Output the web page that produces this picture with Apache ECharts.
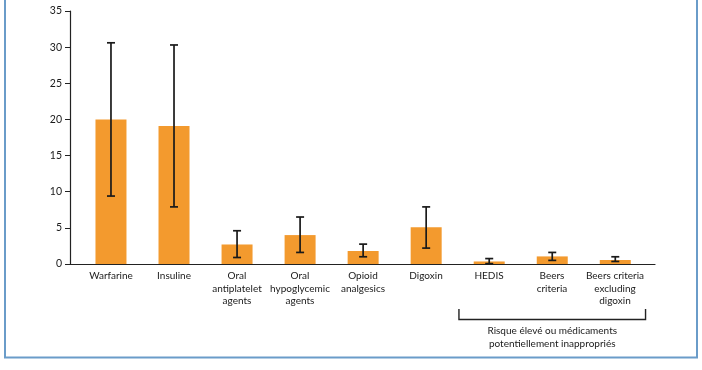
<!DOCTYPE html>
<html>
<head>
<meta charset="utf-8">
<script src="https://cdn.jsdelivr.net/npm/echarts@6/dist/echarts.min.js"></script>
<style>
html,body{margin:0;padding:0;background:#fff;}
#c{width:702px;height:370px;}
</style>
</head>
<body>
<div id="c"></div>
<script>
const categories = ['Warfarine','Insuline','Oral\nantiplatelet\nagents','Oral\nhypoglycemic\nagents','Opioid\nanalgesics','Digoxin','HEDIS','Beers\ncriteria','Beers criteria\nexcluding\ndigoxin'];
const values = [20, 19.1, 2.7, 4.0, 1.8, 5.1, 0.35, 1.05, 0.55];
const errLow = [9.4, 7.9, 0.9, 1.6, 1.0, 2.2, 0.05, 0.5, 0.35];
const errHigh = [30.6, 30.3, 4.6, 6.5, 2.75, 7.9, 0.75, 1.6, 1.0];
const yTicks = [0, 5, 10, 15, 20, 25, 30, 35];
const groupLabel = 'Risque élevé ou médicaments\npotentiellement inappropriés';
const groupRange = [6, 8];

const FONT = 'Lato';
const chart = echarts.init(document.getElementById('c'));
const barData = values.map((v, i) => [i, v]);
const errData = values.map((v, i) => [i, errLow[i], errHigh[i]]);

chart.setOption({
  animation: false,
  grid: [
    {left: 70, right: 47, top: 11, bottom: 106},
    {left: 79.5, right: 55.5, top: 11, bottom: 106}
  ],
  xAxis: [
    {type: 'value', gridIndex: 0, min: -0.65, max: 8.63,
     axisLine: {show: true, onZero: false, lineStyle: {color: '#222', width: 1.2}},
     axisTick: {show: false}, axisLabel: {show: false}, splitLine: {show: false}},
    {type: 'category', gridIndex: 1, data: categories,
     axisLine: {show: false}, axisTick: {show: false}, splitLine: {show: false},
     axisLabel: {interval: 0, color: '#1a1a1a', fontFamily: FONT, fontSize: 10, lineHeight: 12.5, margin: 6}}
  ],
  yAxis: [
    {type: 'value', gridIndex: 0, min: 0, max: 35, interval: 5,
     axisLine: {show: true, onZero: false, lineStyle: {color: '#222', width: 1.2}},
     axisTick: {show: true, length: 5, lineStyle: {color: '#222'}},
     splitLine: {show: false},
     axisLabel: {color: '#1a1a1a', fontFamily: FONT, fontSize: 10.5, margin: 8,
       formatter: v => yTicks.includes(v) ? String(v) : ''}},
    {type: 'value', gridIndex: 1, min: 0, max: 35, show: false}
  ],
  series: [
    {type: 'bar', xAxisIndex: 0, yAxisIndex: 0, data: barData, barWidth: 31,
     itemStyle: {color: '#f39a2e'}},
    {type: 'custom', xAxisIndex: 0, yAxisIndex: 0, data: errData, z: 10,
     renderItem: function (params, api) {
       const x = api.value(0);
       const lo = api.coord([x, api.value(1)]);
       const hi = api.coord([x, api.value(2)]);
       const cap = 4;
       const st = {stroke: '#1a1a1a', lineWidth: 1.7};
       return {type: 'group', children: [
         {type: 'line', shape: {x1: lo[0], y1: lo[1], x2: hi[0], y2: hi[1]}, style: st},
         {type: 'line', shape: {x1: lo[0]-cap, y1: lo[1], x2: lo[0]+cap, y2: lo[1]}, style: st},
         {type: 'line', shape: {x1: hi[0]-cap, y1: hi[1], x2: hi[0]+cap, y2: hi[1]}, style: st}
       ]};
     }}
  ]
});

// bracket annotation under the grouped categories
const xa = chart.convertToPixel({xAxisIndex: 0}, groupRange[0] - 0.48);
const xb = chart.convertToPixel({xAxisIndex: 0}, groupRange[1] + 0.48);
const xm = chart.convertToPixel({xAxisIndex: 0}, (groupRange[0] + groupRange[1]) / 2);
chart.setOption({
  graphic: [
    {type: 'rect', shape: {x: 5, y: -5, width: 692, height: 362.5},
     style: {fill: 'none', stroke: '#6a9cc9', lineWidth: 2}},
    {type: 'polyline', shape: {points: [[xa, 309], [xa, 319.5], [xb, 319.5], [xb, 309]]},
     style: {fill: 'none', stroke: '#222', lineWidth: 1.4}},
    {type: 'text', x: xm, y: 325, style: {text: groupLabel, fill: '#1a1a1a', font: '10px ' + FONT,
      textAlign: 'center', textVerticalAlign: 'top', lineHeight: 12.5}}
  ]
});
</script>
</body>
</html>
